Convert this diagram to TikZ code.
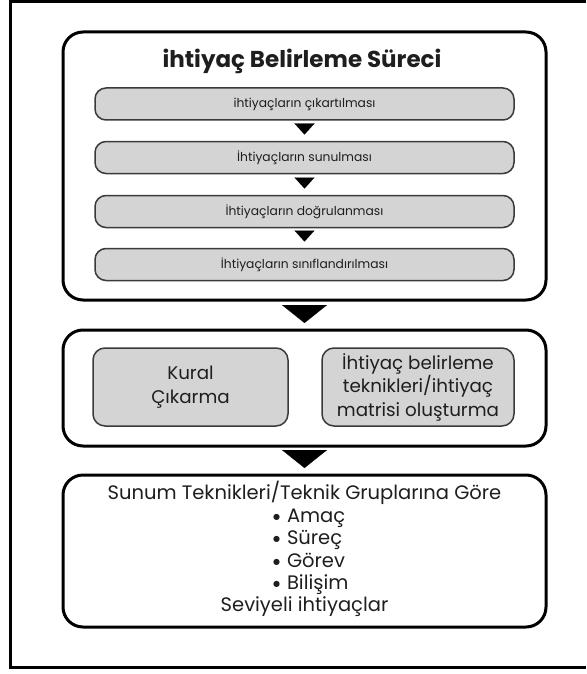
\documentclass[tikz,border=0pt]{standalone}
\usepackage{fontspec}
\setmainfont{Poppins}
\newfontfamily\symfont{DejaVu Sans}
\usetikzlibrary{arrows.meta}
\definecolor{barfill}{HTML}{D4D4D4}
\definecolor{barline}{HTML}{3A3A3A}
\definecolor{txt}{HTML}{1E1E1E}
\newcommand{\bigbul}{\raisebox{3pt}{\symfont\fontsize{8}{8}\selectfont ●}\hspace{0.35em}}
\begin{document}
\begin{tikzpicture}[x=1pt,y=-1pt,
  bigbox/.style={draw=black, line width=3pt, rounded corners=20pt, minimum width=483pt, inner sep=0pt},
  bar/.style={draw=barline, fill=barfill, line width=1.5pt, rounded corners=11pt, minimum width=419pt, minimum height=32pt, inner sep=0pt, font=\fontsize{12.3}{14}\selectfont, text=txt},
  graybox/.style={draw=barline, fill=barfill, line width=1.5pt, rounded corners=12pt, minimum height=78pt, inner sep=0pt, align=center, font=\fontsize{18.3}{23.5}\selectfont, text=txt},
  smalltri/.style={-{Triangle[width=20pt,length=11pt]}, line width=0.1pt},
  bigtri/.style={-{Triangle[width=45pt,length=18pt]}, line width=0.1pt},
  line3/.style={font=\fontsize{19.5}{22}\selectfont, text=txt, inner sep=0pt, text height=14pt, text depth=5pt}
]
\useasboundingbox (0,0) rectangle (586,674);
\fill[white] (0,0) rectangle (586,674);
\draw[line width=3pt] (586,1.5) -- (10,1.5) -- (10,667) -- (586,667);

% box 1
\node[bigbox, minimum height=268pt] (box1) at (304.5,166) {};
\node[font=\fontsize{23}{26}\selectfont\bfseries, text=txt] (title) at (302,61) {ihtiyaç Belirleme Süreci};
\node[bar] (b1) at (304.5,104) {ihtiyaçların çıkartılması};
\node[bar] (b2) at (304.5,157.5) {İhtiyaçların sunulması};
\node[bar] (b3) at (304.5,211.5) {İhtiyaçların doğrulanması};
\node[bar] (b4) at (304.5,264.5) {İhtiyaçların sınıflandırılması};

% box 2
\node[bigbox, minimum height=116pt] (box2) at (304.5,388) {};
\node[graybox, minimum width=195pt] (kural) at (190.5,387) {Kural\\Çıkarma};
\node[graybox, minimum width=192pt] (teknik) at (418,387) {İhtiyaç belirleme\\teknikleri/ihtiyaç\\matrisi oluşturma};

% box 3
\node[bigbox, minimum height=152pt] (box3) at (304.5,551) {};
\node[line3] (l1) at (304.5,495) {Sunum Teknikleri/Teknik Gruplarına Göre};
\node[line3, anchor=west] (l2) at (273,518) {\bigbul Amaç};
\node[line3, anchor=west] (l3) at (273,540) {\bigbul Süreç};
\node[line3, anchor=west] (l4) at (273,562.5) {\bigbul Görev};
\node[line3, anchor=west] (l5) at (273,585) {\bigbul Bilişim};
\node[line3] (l6) at (304.5,607) {Seviyeli ihtiyaçlar};

% connectors
\draw[smalltri, shorten <=3.25pt, shorten >=6.25pt] (b1.south) -- (b2.north);
\draw[smalltri, shorten <=3.25pt, shorten >=6.25pt] (b2.south) -- (b3.north);
\draw[smalltri, shorten <=3.25pt, shorten >=6.25pt] (b3.south) -- (b4.north);
\draw[bigtri, shorten <=3.5pt, shorten >=5.5pt] (box1.south) -- (box2.north);
\draw[bigtri, shorten <=2.5pt, shorten >=5.5pt] (box2.south) -- (box3.north);
\end{tikzpicture}
\end{document}
